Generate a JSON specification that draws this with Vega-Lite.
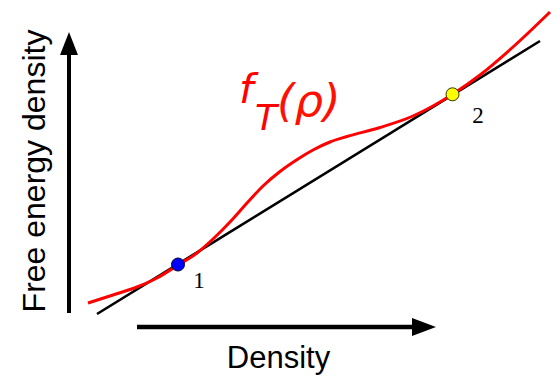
{
  "$schema": "https://vega.github.io/schema/vega-lite/v6.json",
  "width": 560,
  "height": 378,
  "padding": 0,
  "autosize": {"type": "none"},
  "background": "white",
  "config": {"view": {"stroke": null}},
  "datasets": {
    "curve": [
      {"rho": 88, "f": 75}, {"rho": 113, "f": 83}, {"rho": 137, "f": 91}, {"rho": 157, "f": 100},
      {"rho": 178, "f": 113}, {"rho": 197, "f": 125}, {"rho": 213, "f": 139}, {"rho": 230, "f": 156},
      {"rho": 247, "f": 175}, {"rho": 263, "f": 192}, {"rho": 280, "f": 206.5}, {"rho": 298, "f": 219},
      {"rho": 313, "f": 228}, {"rho": 330, "f": 236}, {"rho": 347, "f": 241.5}, {"rho": 380, "f": 250.5},
      {"rho": 413, "f": 262}, {"rho": 433, "f": 272}, {"rho": 453, "f": 284}, {"rho": 480, "f": 303},
      {"rho": 513, "f": 331}, {"rho": 550, "f": 366}
    ],
    "tangent": [{"rho": 97, "f": 64}, {"rho": 540, "f": 337}]
  },
  "encoding": {
    "x": {"field": "rho", "type": "quantitative", "axis": null, "scale": {"domain": [0, 560], "nice": false, "zero": false}},
    "y": {"field": "f", "type": "quantitative", "axis": null, "scale": {"domain": [0, 378], "nice": false, "zero": false}}
  },
  "layer": [
    {
      "data": {"values": [{"rho": 69, "f": 65, "f2": 328}]},
      "mark": {"type": "rule", "color": "black", "strokeWidth": 4},
      "encoding": {"y2": {"field": "f2"}}
    },
    {
      "data": {"values": [{"rho": 69, "f": 334.5}]},
      "mark": {"type": "point", "shape": "M0,-1L0.78,1L-0.78,1Z", "size": 529, "filled": true, "color": "black", "opacity": 1, "strokeWidth": 0}
    },
    {
      "data": {"values": [{"rho": 137, "rho2": 415, "f": 51}]},
      "mark": {"type": "rule", "color": "black", "strokeWidth": 4.5},
      "encoding": {"x2": {"field": "rho2"}}
    },
    {
      "data": {"values": [{"rho": 424, "f": 51}]},
      "mark": {"type": "point", "shape": "M1,0L-1,0.75L-1,-0.75Z", "size": 576, "filled": true, "color": "black", "opacity": 1, "strokeWidth": 0}
    },
    {
      "data": {"name": "tangent"},
      "mark": {"type": "line", "color": "black", "strokeWidth": 2.6}
    },
    {
      "data": {"name": "curve"},
      "mark": {"type": "line", "color": "#ff0000", "strokeWidth": 3, "interpolate": "monotone"}
    },
    {
      "data": {"values": [{"rho": 178, "f": 113.5}]},
      "mark": {"type": "circle", "size": 169, "fill": "#0000ff", "stroke": "#000033", "strokeWidth": 1, "opacity": 1}
    },
    {
      "data": {"values": [{"rho": 452.5, "f": 283.7}]},
      "mark": {"type": "circle", "size": 169, "fill": "#ffff00", "stroke": "#333300", "strokeWidth": 1, "opacity": 1}
    },
    {
      "data": {"values": [{"rho": 199, "f": 90, "label": "1"}, {"rho": 478, "f": 255, "label": "2"}]},
      "mark": {"type": "text", "font": "Liberation Serif", "fontSize": 23, "color": "black", "align": "center", "baseline": "alphabetic"},
      "encoding": {"text": {"field": "label"}}
    },
    {
      "data": {"values": [{"rho": 239, "f": 275, "label": "f"}]},
      "mark": {"type": "text", "font": "DejaVu Sans", "fontStyle": "italic", "fontSize": 41, "color": "#ff0000", "align": "left", "baseline": "alphabetic"},
      "encoding": {"text": {"field": "label"}}
    },
    {
      "data": {"values": [{"rho": 255, "f": 248, "label": "T"}]},
      "mark": {"type": "text", "font": "DejaVu Sans", "fontStyle": "italic", "fontSize": 36, "color": "#ff0000", "align": "left", "baseline": "alphabetic"},
      "encoding": {"text": {"field": "label"}}
    },
    {
      "data": {"values": [{"rho": 277, "f": 262, "label": "(ρ)"}]},
      "mark": {"type": "text", "font": "DejaVu Sans", "fontStyle": "italic", "fontSize": 45, "color": "#ff1000", "align": "left", "baseline": "alphabetic"},
      "encoding": {"text": {"field": "label"}}
    },
    {
      "data": {"values": [{"rho": 45, "f": 207, "label": "Free energy density"}]},
      "mark": {"type": "text", "font": "Liberation Sans", "fontSize": 32, "color": "black", "align": "center", "baseline": "alphabetic", "angle": 270},
      "encoding": {"text": {"field": "label"}}
    },
    {
      "data": {"values": [{"rho": 278.5, "f": 10, "label": "Density"}]},
      "mark": {"type": "text", "font": "Liberation Sans", "fontSize": 31, "color": "black", "align": "center", "baseline": "alphabetic"},
      "encoding": {"text": {"field": "label"}}
    }
  ]
}
